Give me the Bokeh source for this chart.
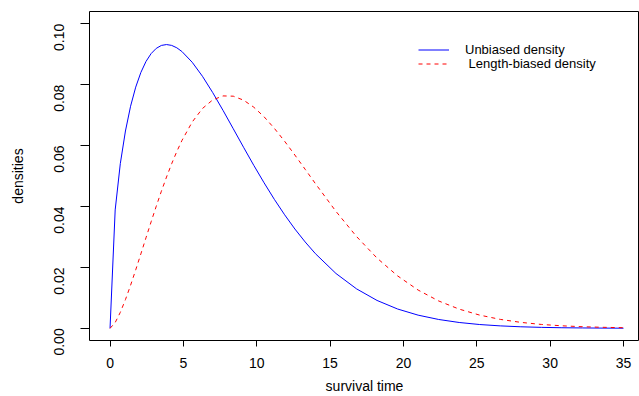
from bokeh.plotting import figure
from bokeh.models import Range1d, FixedTicker, Legend, LegendItem, PrintfTickFormatter
from bokeh.embed import file_html
from bokeh.resources import INLINE
import math

# survival time grid
time = [0.0, 0.35, 0.7, 1.05, 1.4, 1.75, 2.1, 2.45, 2.8, 3.15, 3.5, 3.85, 4.2, 4.55, 4.9,
        5.6, 6.3, 7.0, 7.7, 8.4, 9.1, 9.8, 10.5, 11.2, 11.9, 12.6, 13.3, 14.0,
        15.4, 16.8, 18.2, 19.6, 21.0, 22.4, 23.8, 25.2, 26.6, 28.0, 29.4, 30.8, 32.2, 33.6, 35.0]

unbiased = [0.0, 0.03886, 0.05405, 0.06477, 0.07290, 0.07917, 0.08398, 0.08759, 0.09018, 0.09190,
            0.09286, 0.09315, 0.09287, 0.09209, 0.09086,
            0.08734, 0.08273, 0.07737, 0.07155, 0.06551, 0.05944, 0.05348, 0.04776, 0.04233,
            0.03727, 0.03260, 0.02835, 0.02450,
            0.01800, 0.01296, 0.00915, 0.00634, 0.00432, 0.00290, 0.00191, 0.00124, 0.00080,
            0.00050, 0.00031, 0.00019, 0.00012, 0.00007, 0.00004]

length_biased = [0.0, 0.00188, 0.00524, 0.00942, 0.01413, 0.01918, 0.02442, 0.02971, 0.03496, 0.04008,
                 0.04500, 0.04966, 0.05401, 0.05802, 0.06165,
                 0.06772, 0.07216, 0.07499, 0.07629, 0.07620, 0.07490, 0.07258, 0.06944, 0.06564,
                 0.06141, 0.05687, 0.05220, 0.04749,
                 0.03838, 0.03014, 0.02305, 0.01721, 0.01256, 0.00898, 0.00630, 0.00433, 0.00293,
                 0.00195, 0.00127, 0.00082, 0.00052, 0.00033, 0.00020]

x_ticks = [0, 5, 10, 15, 20, 25, 30, 35]
y_ticks = [0.0, 0.02, 0.04, 0.06, 0.08, 0.10]

FONT = "Liberation Sans"
FS = "14px"

p = figure(width=639, height=396, output_backend="svg", toolbar_location=None,
           x_range=Range1d(-1.4, 36.09), y_range=Range1d(-0.004, 0.104),
           min_border_left=89, min_border_right=0, min_border_top=11, min_border_bottom=56)

p.grid.visible = False
p.outline_line_color = "black"
p.outline_line_width = 1
p.background_fill_color = "white"
p.border_fill_color = "white"

for ax in (p.xaxis[0], p.yaxis[0]):
    ax.axis_line_color = None
    ax.major_tick_in = 0
    ax.minor_tick_line_color = None
    ax.major_tick_line_color = "black"
    ax.major_label_text_font = FONT
    ax.major_label_text_font_size = FS
    ax.major_label_text_color = "black"
    ax.axis_label_text_font = FONT
    ax.axis_label_text_font_size = FS
    ax.axis_label_text_font_style = "normal"
    ax.axis_label_text_color = "black"

p.xaxis.ticker = FixedTicker(ticks=x_ticks)
p.xaxis.major_tick_out = 6
p.xaxis.major_label_standoff = 11
p.xaxis.axis_label = "survival time"
p.xaxis.axis_label_standoff = 7

p.yaxis.ticker = FixedTicker(ticks=y_ticks)
p.yaxis.formatter = PrintfTickFormatter(format="%.2f")
p.yaxis.major_tick_out = 9
p.yaxis.major_label_orientation = math.pi / 2
p.yaxis.major_label_standoff = 21
p.yaxis.axis_label = "densities"
p.yaxis.axis_label_standoff = 21

r1 = p.line(time, unbiased, line_color="#0000FF", line_width=1)
r2 = p.line(time, length_biased, line_color="#FF0000", line_width=1, line_dash="4 4")


def make_legend(label, renderer, loc):
    lg = Legend(items=[LegendItem(label=label, renderers=[renderer])], location=loc)
    lg.border_line_color = None
    lg.background_fill_alpha = 0
    lg.padding = 0
    lg.margin = 0
    lg.spacing = 0
    lg.glyph_width = 31
    lg.glyph_height = 13
    lg.label_height = 13
    lg.label_standoff = 16
    lg.label_text_font = FONT
    lg.label_text_font_size = "13px"
    lg.label_text_color = "black"
    return lg


p.add_layout(make_legend("Unbiased density", r1, (329, 283)))
p.add_layout(make_legend(" Length-biased density", r2, (329, 269)))

open("out.html", "w").write(file_html(p, INLINE))
